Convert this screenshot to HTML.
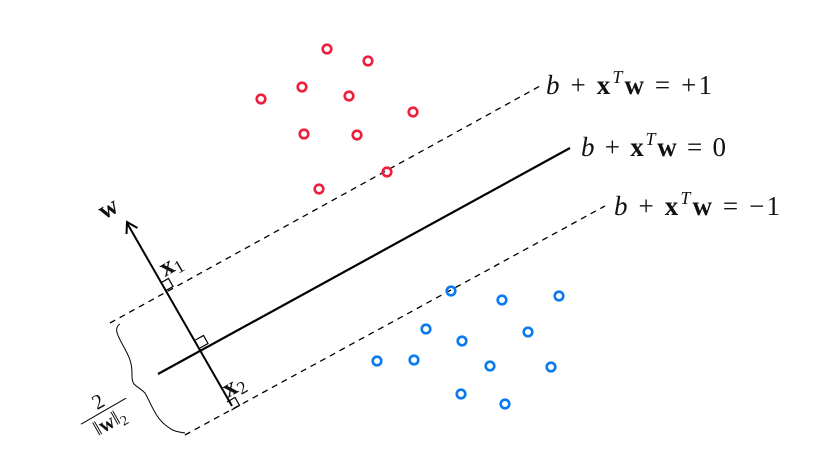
<!DOCTYPE html>
<html><head><style>
html,body{margin:0;padding:0;background:#fff;width:836px;height:458px;overflow:hidden}
svg text{font-family:"Liberation Serif",serif;fill:#111}
</style></head><body>
<svg width="836" height="458" viewBox="0 0 836 458" xmlns="http://www.w3.org/2000/svg">
<g stroke="#000" fill="none">
<line x1="110" y1="323" x2="540" y2="86" stroke-width="1.3" stroke-dasharray="6,5"/>
<line x1="185" y1="435" x2="605" y2="206" stroke-width="1.3" stroke-dasharray="6,5"/>
<line x1="158" y1="374" x2="570" y2="148" stroke-width="2.2"/>
<line x1="232" y1="406" x2="127" y2="223" stroke-width="2"/>
<polyline points="126.5,234 127,222 137.5,228" stroke-width="2"/>
<g stroke-width="1.2">
<path d="M160.5,283 l8,-4.5 l4.5,8 l-8,4.5"/>
<path d="M195.5,340 l8,-4.5 l4.5,8 l-8,4.5"/>
<path d="M227,402 l8,-4.5 l4.5,8 l-8,4.5"/>
</g>
<path d="M120,324 C110,330 125,345 130,360 C134,372 130,378 134,384 C138,388 140,388 145,393 C152,405 155,418 168,427 C174,432 180,432 185,433" stroke-width="1"/>
</g>
<g fill="none" stroke="#ee1f3d" stroke-width="2.6">
<circle cx="327" cy="49" r="4.3"/><circle cx="368" cy="61" r="4.3"/>
<circle cx="261" cy="99" r="4.3"/><circle cx="302" cy="87" r="4.3"/>
<circle cx="349" cy="96" r="4.3"/><circle cx="413" cy="112" r="4.3"/>
<circle cx="304" cy="134" r="4.3"/><circle cx="357" cy="135" r="4.3"/>
<circle cx="319" cy="189" r="4.3"/><circle cx="387" cy="172" r="4.3"/>
</g>
<g fill="none" stroke="#0a7af0" stroke-width="2.6">
<circle cx="451" cy="291" r="4.3"/><circle cx="502" cy="300" r="4.3"/>
<circle cx="559" cy="296" r="4.3"/><circle cx="426" cy="329" r="4.3"/>
<circle cx="462" cy="341" r="4.3"/><circle cx="528" cy="332" r="4.3"/>
<circle cx="377" cy="361" r="4.3"/><circle cx="414" cy="360" r="4.3"/>
<circle cx="490" cy="366" r="4.3"/><circle cx="551" cy="367" r="4.3"/>
<circle cx="461" cy="394" r="4.3"/><circle cx="505" cy="404" r="4.3"/>
</g>
<g font-size="27">
<text x="546" y="94" textLength="166" lengthAdjust="spacing"><tspan font-style="italic">b</tspan> + <tspan font-weight="bold">x</tspan><tspan font-style="italic" font-size="18" dy="-11">T</tspan><tspan font-weight="bold" dy="11">w</tspan> = +1</text>
<text x="581" y="156" textLength="145" lengthAdjust="spacing"><tspan font-style="italic">b</tspan> + <tspan font-weight="bold">x</tspan><tspan font-style="italic" font-size="18" dy="-11">T</tspan><tspan font-weight="bold" dy="11">w</tspan> = 0</text>
<text x="614" y="215" textLength="166" lengthAdjust="spacing"><tspan font-style="italic">b</tspan> + <tspan font-weight="bold">x</tspan><tspan font-style="italic" font-size="18" dy="-11">T</tspan><tspan font-weight="bold" dy="11">w</tspan> = −1</text>
</g>
<text transform="translate(104,220) rotate(-30)" font-size="26" font-weight="bold">w</text>
<text transform="translate(165,277) rotate(-30)" font-size="26" font-weight="bold">x<tspan font-size="18" font-weight="normal" dy="4">1</tspan></text>
<text transform="translate(228,398) rotate(-30)" font-size="26" font-weight="bold">x<tspan font-size="18" font-weight="normal" dy="4">2</tspan></text>
<g transform="translate(104,412) rotate(-30)">
<text x="0" y="-5" font-size="21" text-anchor="middle">2</text>
<line x1="-26" y1="-1" x2="26" y2="-1" stroke="#000" stroke-width="1"/>
<text x="0" y="18" font-size="21" text-anchor="middle">‖<tspan font-weight="bold">w</tspan>‖<tspan font-size="14" dy="4">2</tspan></text>
</g>
</svg>
</body></html>
